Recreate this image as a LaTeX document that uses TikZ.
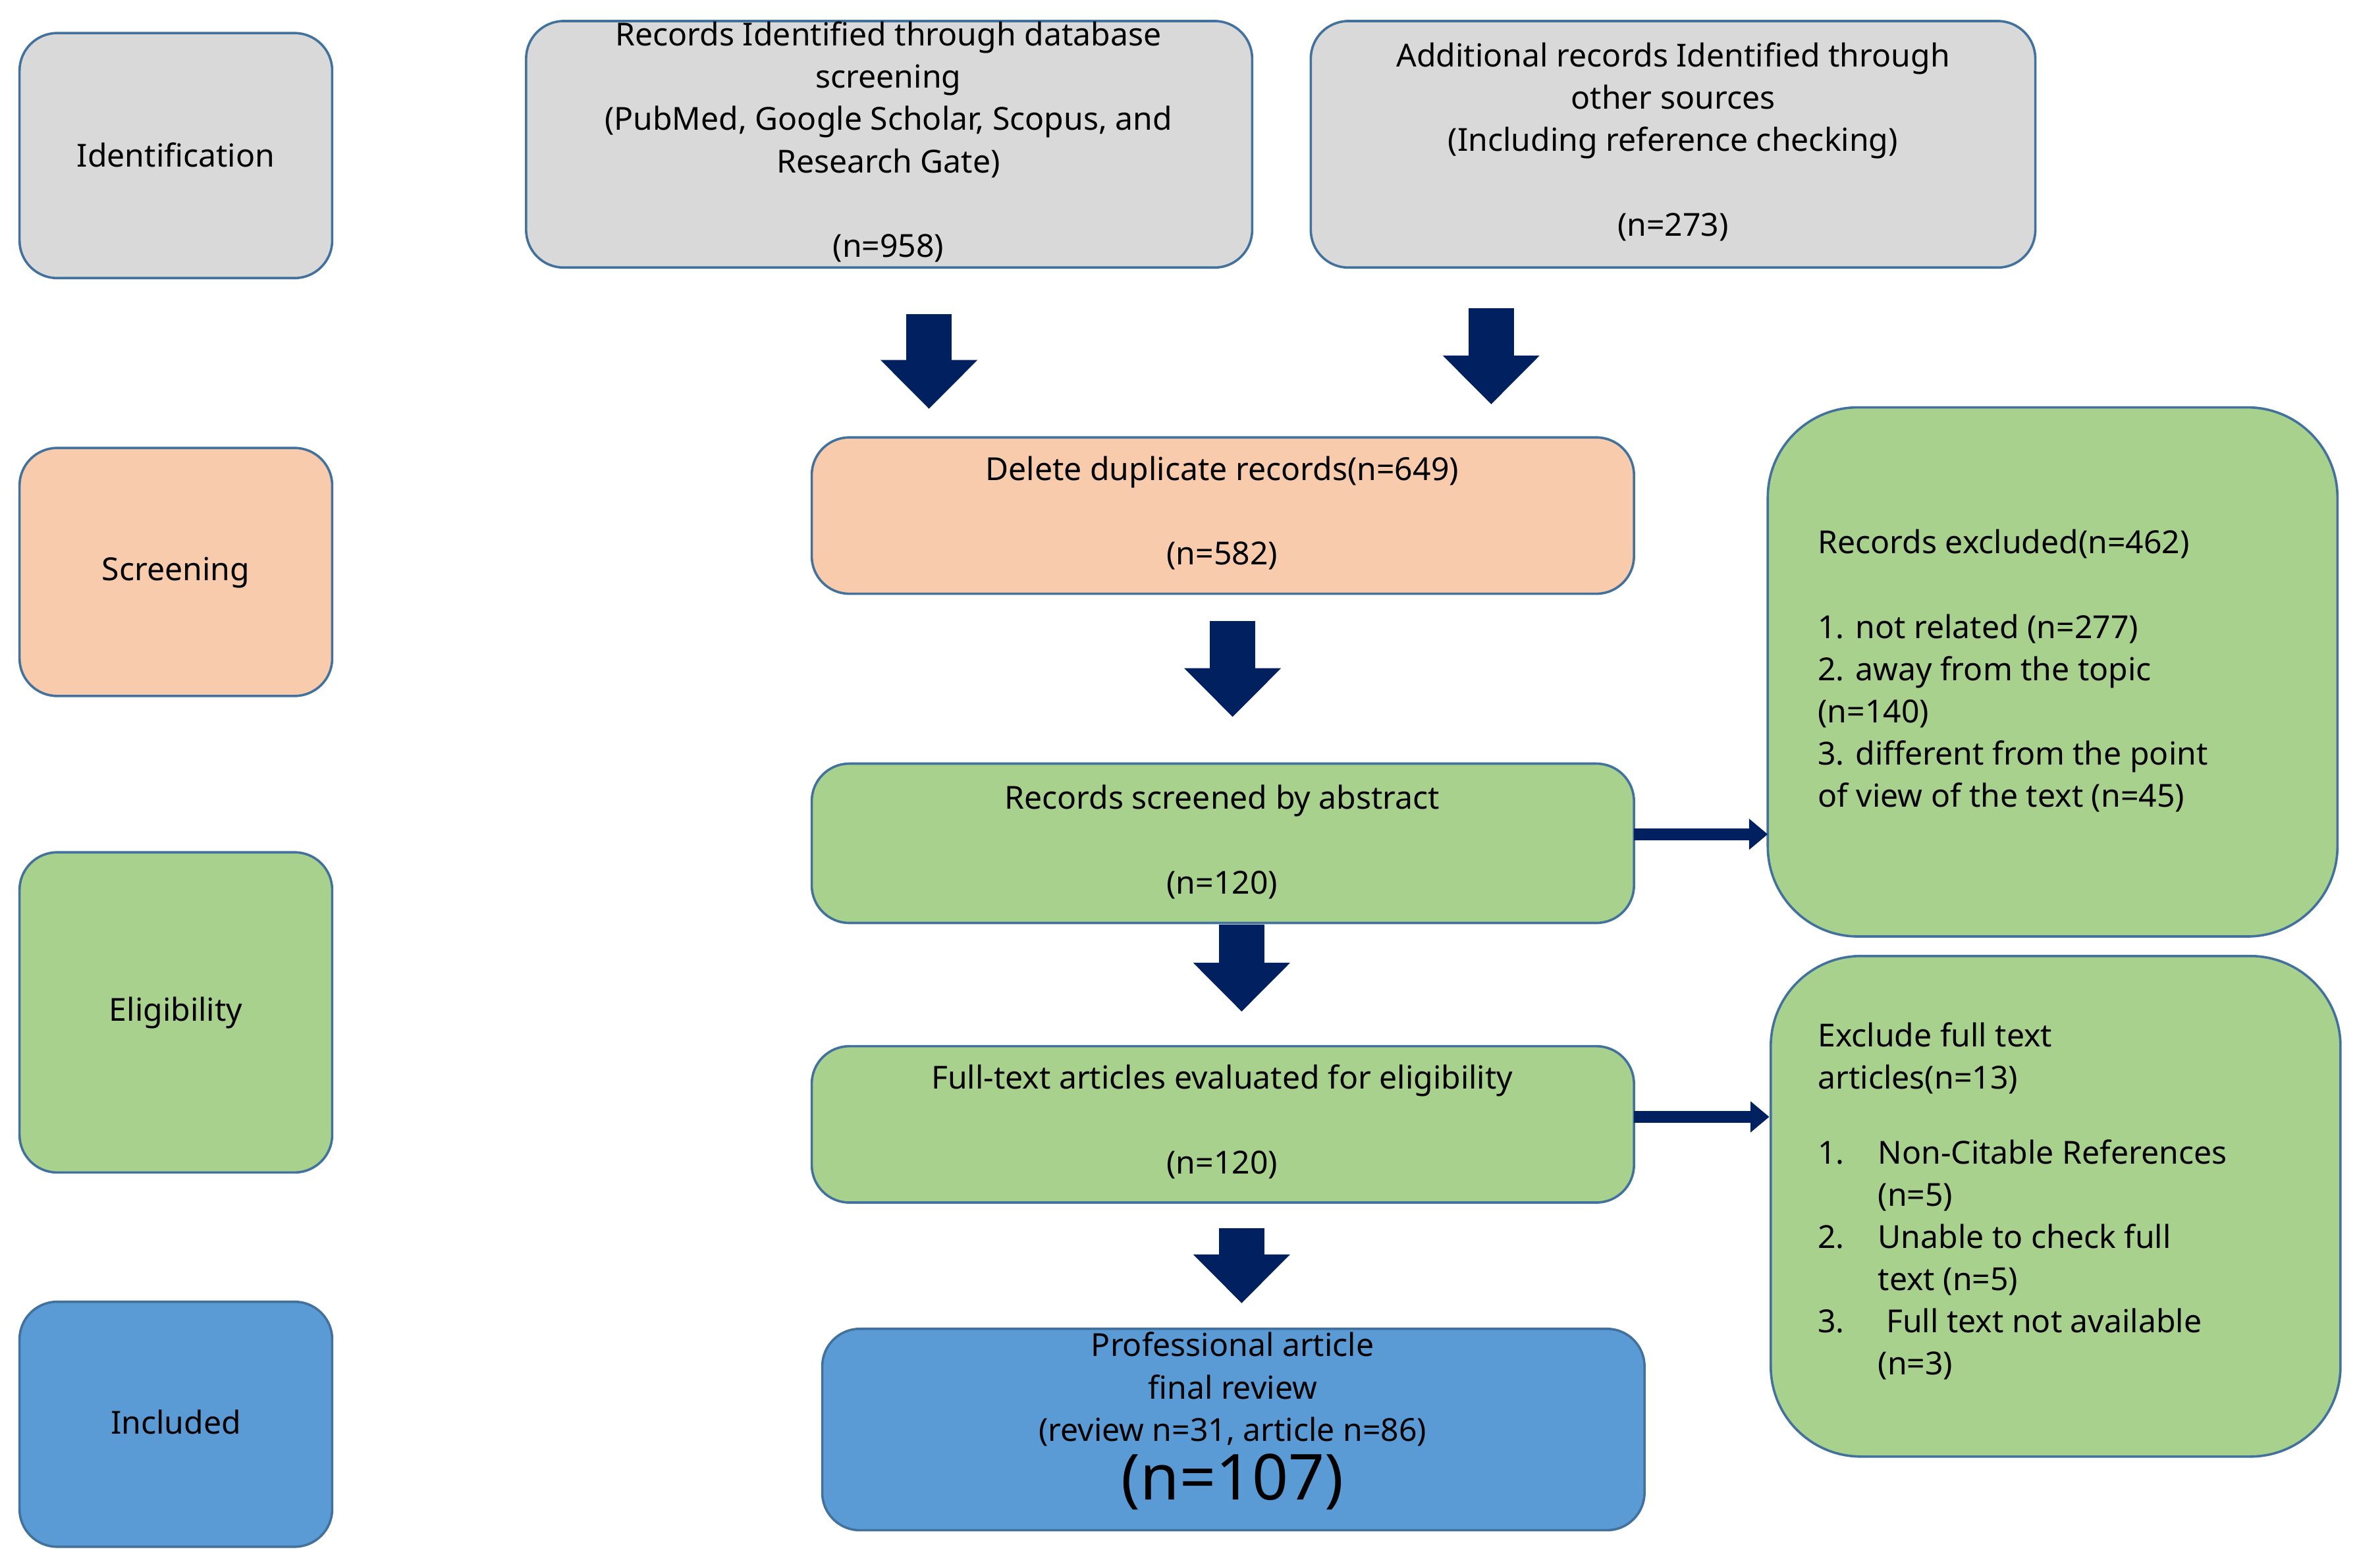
\documentclass[tikz,border=0pt]{standalone}
\usepackage{fontspec}
\setmainfont{Noto Sans}
\usetikzlibrary{arrows.meta}
\definecolor{bd}{HTML}{41719C}
\definecolor{gr}{HTML}{D9D9D9}
\definecolor{pe}{HTML}{F8CBAD}
\definecolor{gn}{HTML}{A9D18E}
\definecolor{bl}{HTML}{5B9BD5}
\definecolor{nv}{HTML}{002060}
\begin{document}
\begin{tikzpicture}[x=0.2mm,y=-0.2mm,
  box/.style={draw=bd,line width=0.9pt,rounded corners=5mm},
  txt/.style={font=\fontsize{12}{16}\selectfont,align=center,inner sep=0pt,anchor=north},
  ltxt/.style={font=\fontsize{12}{16}\selectfont,align=left,inner sep=0pt,anchor=north west},
  blk/.style={nv,line width=6mm,-{Triangle[width=12.5mm,length=6.5mm]}},
  thin/.style={nv,line width=1.6mm,-{Triangle[width=4mm,length=2.5mm]},shorten >=0pt}]
\useasboundingbox (0,0) rectangle (1568,1043);
% stage boxes
\draw[box,fill=gr] (13,22) rectangle (221,185);
\node[txt,anchor=center] (sid) at (117,103) {Identification};
\draw[box,fill=pe] (13,298) rectangle (221,463);
\node[txt,anchor=center] (ssc) at (117,381) {Screening};
\draw[box,fill=gn] (13,567) rectangle (221,780);
\node[txt,anchor=center] (sel) at (117,674) {Eligibility};
\draw[box,fill=bl] (13,866) rectangle (221,1029);
\node[txt,anchor=center] (sin) at (117,946) {Included};
% top boxes
\draw[box,fill=gr] (350,14) rectangle (833,178);
\node[txt] (db) at (591,14) {Records Identified through database\\screening\\(PubMed, Google Scholar, Scopus, and\\Research Gate)\\ \\(n=958)};
\draw[box,fill=gr] (872,14) rectangle (1354,178);
\node[txt] (ad) at (1113,28) {Additional records Identified through\\other sources\\(Including reference checking)\\ \\(n=273)};
% middle
\draw[box,fill=pe] (540,291) rectangle (1087,395);
\node[txt] (dd) at (813,303) {Delete duplicate records(n=649)\\ \\(n=582)};
\draw[box,fill=gn] (540,508) rectangle (1087,614);
\node[txt] (ab) at (813,522) {Records screened by abstract\\ \\(n=120)};
\draw[box,fill=gn] (540,696) rectangle (1087,800);
\node[txt] (ft) at (813,708) {Full-text articles evaluated for eligibility\\ \\(n=120)};
\draw[box,fill=bl] (547,884) rectangle (1094,1018);
\node[txt] (pr) at (820,886) {Professional article\\final review\\(review n=31, article n=86)\\[2pt]{\fontsize{24}{26}\selectfont\bfseries (n=107)}};
% right
\draw[box,fill=gn,rounded corners=12mm] (1176,271) rectangle (1555,623);
\node[ltxt] (ex) at (1209,352) {Records excluded(n=462)\\ \\1. not related (n=277)\\2. away from the topic\\(n=140)\\3. different from the point\\of view of the text (n=45)};
\draw[box,fill=gn,rounded corners=12mm] (1178,636) rectangle (1557,969);
\node[ltxt] (ef) at (1209,680) {Exclude full text\\articles(n=13)\\ \\
\begin{tabular}{@{}p{8mm}@{}l@{}}
1. & Non-Citable References\\
   & (n=5)\\
2. & Unable to check full\\
   & text (n=5)\\
3. & \ Full text not available\\
   & (n=3)
\end{tabular}};
% arrows
\draw[blk] (618,209) -- (618,272);
\draw[blk] (992,205) -- (992,269);
\draw[blk] (820,413) -- (820,477);
\draw[blk] (826,615) -- (826,673);
\draw[blk] (826,817) -- (826,867);
\draw[thin] (1087,555) -- (1176,555);
\draw[thin] (1087,743) -- (1177,743);
\end{tikzpicture}
\end{document}
